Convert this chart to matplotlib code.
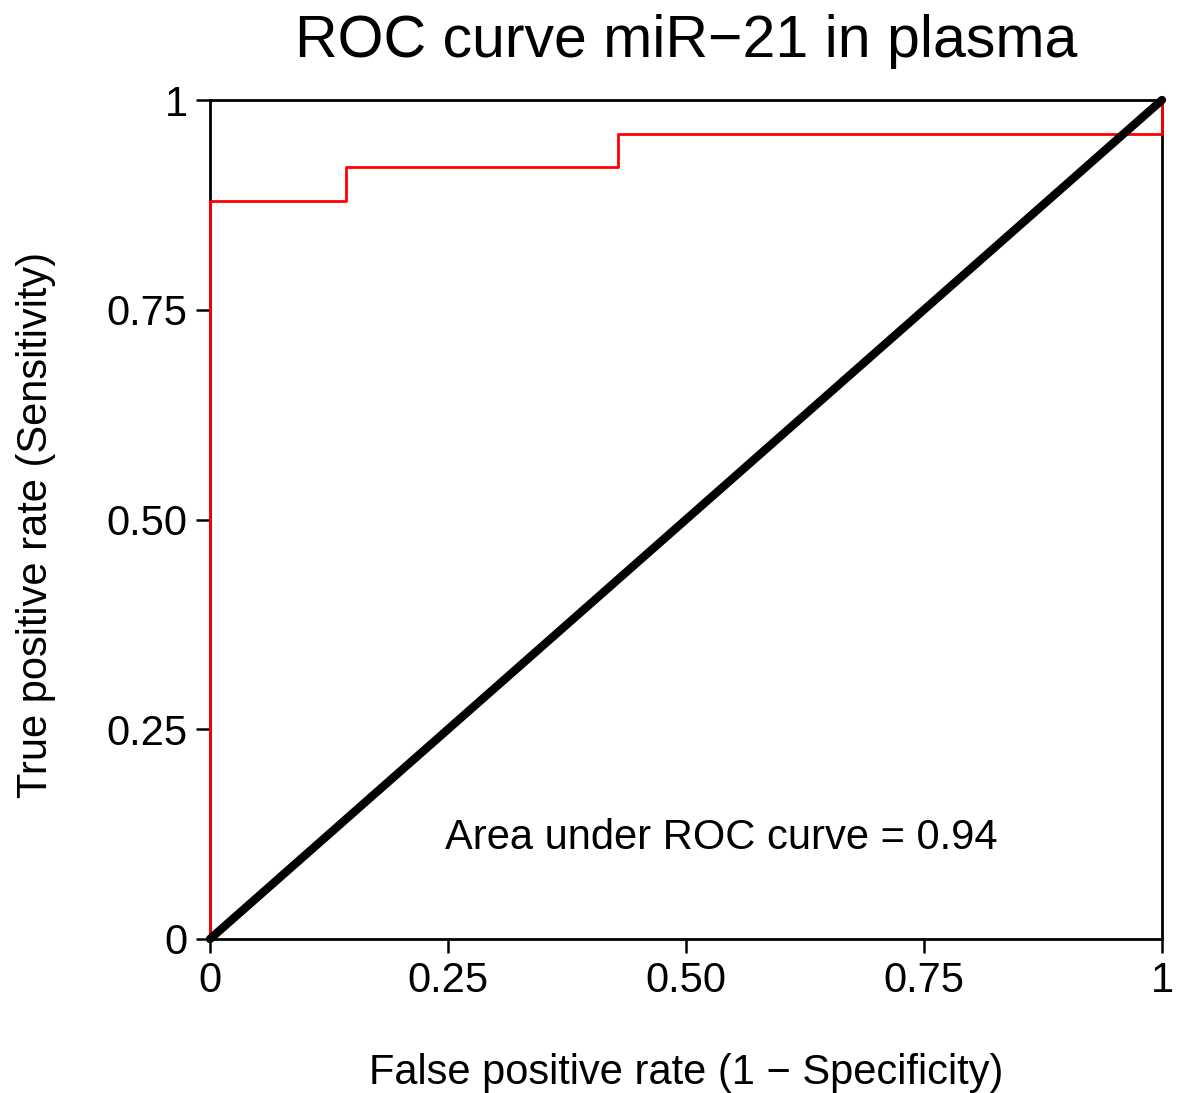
import matplotlib
matplotlib.use("Agg")
import matplotlib.pyplot as plt

plt.rcParams['font.family'] = ['Liberation Sans', 'DejaVu Sans']

fpr = [0.0, 0.0, 1/7, 1/7, 3/7, 3/7, 1.0, 1.0]
tpr = [0.0, 0.88, 0.88, 0.92, 0.92, 0.96, 0.96, 1.0]
diag = [0.0, 1.0]
ticks = [0, 0.25, 0.5, 0.75, 1]
tick_labels = ['0', '0.25', '0.50', '0.75', '1']
auc_text = 'Area under ROC curve = 0.94'

fig = plt.figure(figsize=(11.78, 10.93), dpi=100)
ax = fig.add_axes([210/1178, 1-939/1093, (1162-210)/1178, (939-100)/1093])

ax.plot(fpr, tpr, color='red', lw=2.0, zorder=3, clip_on=False)
ax.plot(diag, diag, color='black', lw=6, solid_capstyle='round', zorder=4, clip_on=False)

ax.set_xlim(0, 1)
ax.set_ylim(0, 1)
ax.set_xticks(ticks)
ax.set_xticklabels(tick_labels)
ax.set_yticks(ticks)
ax.set_yticklabels(tick_labels)
ax.tick_params(direction='out', length=10, width=1.8, labelsize=30, pad=6)
for s in ax.spines.values():
    s.set_linewidth(2.0)

ax.set_title('ROC curve miR\u221221 in plasma', fontsize=42.5, y=1.060, va='center')
ax.set_xlabel('False positive rate (1 \u2212 Specificity)', fontsize=30, va='center')
ax.xaxis.set_label_coords(0.5, -0.16)
ax.set_ylabel('True positive rate (Sensitivity)', fontsize=30, va='center')
ax.yaxis.set_label_coords(-0.183, 0.493)
ax.text(0.5375, 0.12, auc_text, fontsize=30, ha='center', va='center')

fig.savefig('out.png', dpi=100)
